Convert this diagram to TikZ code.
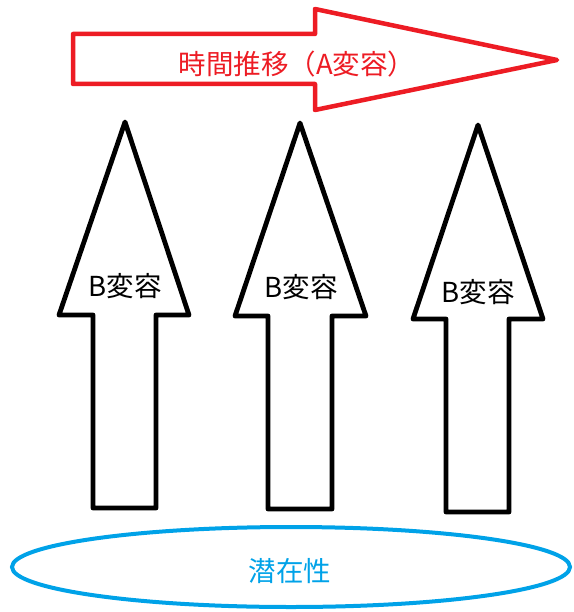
\documentclass[tikz,border=0pt]{standalone}
\usepackage{fontspec}
\newfontfamily\jp{Noto Sans CJK JP}
\definecolor{pred}{HTML}{ED1C24}
\definecolor{pblue}{HTML}{00A2E8}
\begin{document}
\begin{tikzpicture}[x=1pt,y=-1pt,
  redarrow/.style={draw=pred,line width=4.5pt,line join=round},
  blkarrow/.style={draw=black,line width=4.8pt,line join=round},
  blueell/.style={draw=pblue,line width=4pt},
  lbl/.style={font=\jp\fontsize{27.5}{30}\selectfont,inner sep=0pt}]
\useasboundingbox (0,0) rectangle (573,612);
% top red arrow
\draw[redarrow] (73,34) -- (315,34) -- (315,9) -- (557,60) -- (315,110) -- (315,84) -- (73,84) -- cycle;
\node[lbl,text=pred] (tA) at (297,64) {時間推移（A変容）};
% black arrows
\draw[blkarrow] (125,122) -- (189,315) -- (156,315) -- (156,508) -- (93,508) -- (93,315) -- (59,315) -- cycle;
\node[lbl] (b1) at (125,286) {B変容};
\draw[blkarrow] (300,123) -- (366,316) -- (332,316) -- (332,509) -- (268,509) -- (268,316) -- (235,316) -- cycle;
\node[lbl] (b2) at (301,287) {B変容};
\draw[blkarrow] (478,125) -- (543,319) -- (509,319) -- (509,512) -- (446,512) -- (446,319) -- (413,319) -- cycle;
\node[lbl] (b3) at (478,292) {B変容};
% blue ellipse
\draw[blueell] (291,567) ellipse [x radius=279,y radius=40];
\node[lbl,text=pblue] (pot) at (290,571) {潜在性};
\end{tikzpicture}
\end{document}
